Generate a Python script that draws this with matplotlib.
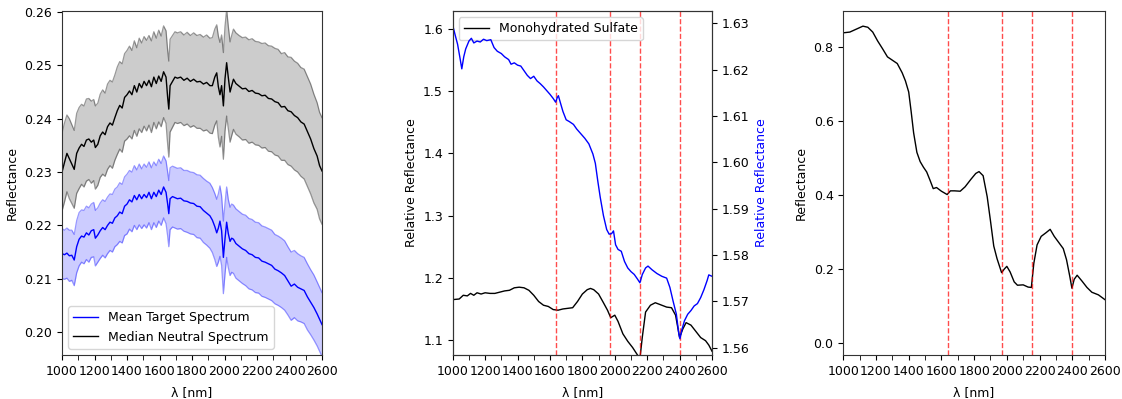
import numpy as np
import matplotlib
matplotlib.use("Agg")
import matplotlib.pyplot as plt
from matplotlib.ticker import MultipleLocator

# ---------------- Panel 1: target vs neutral spectra ----------------
wl = [
    1000, 1015, 1030, 1045, 1060, 1075, 1090, 1105, 1120, 1135,
    1150, 1165, 1180, 1195, 1205, 1220, 1235, 1250, 1265, 1280,
    1295, 1310, 1325, 1340, 1355, 1370, 1385, 1400, 1415, 1430,
    1445, 1460, 1475, 1490, 1505, 1520, 1535, 1550, 1565, 1580,
    1595, 1610, 1625, 1640, 1650, 1657, 1665, 1680, 1695, 1710,
    1730, 1750, 1770, 1790, 1810, 1830, 1850, 1870, 1890, 1910,
    1925, 1940, 1952, 1962, 1972, 1982, 1993, 2003, 2013, 2023,
    2034, 2044, 2055, 2070, 2090, 2110, 2130, 2150, 2170, 2190,
    2210, 2230, 2250, 2270, 2290, 2310, 2330, 2350, 2370, 2390,
    2410, 2430, 2450, 2470, 2490, 2510, 2530, 2550, 2570, 2585,
    2600,
]

neutral_median = [
    .2300, .2318, .2335, .2325, .2315, .2305, .2335, .2345, .2352, .2348,
    .2360, .2362, .2356, .2360, .2346, .2352, .2368, .2375, .2370, .2385,
    .2392, .2388, .2402, .2415, .2425, .2420, .2440, .2445, .2452, .2445,
    .2462, .2450, .2466, .2458, .2470, .2462, .2472, .2460, .2478, .2466,
    .2480, .2470, .2488, .2478, .2440, .2418, .2462, .2470, .2478, .2476,
    .2478, .2472, .2476, .2470, .2474, .2469, .2470, .2465, .2468, .2462,
    .2462, .2478, .2486, .2460, .2445, .2462, .2424, .2475, .2505, .2478,
    .2450, .2462, .2474, .2466, .2461, .2456, .2457, .2451, .2453, .2448,
    .2447, .2443, .2444, .2438, .2437, .2432, .2430, .2422, .2423, .2415,
    .2413, .2406, .2402, .2394, .2390, .2376, .2362, .2344, .2330, .2312,
    .2302,
]

neutral_spread = [
    .0073, .0074, .0072, .0075, .0074, .0073, .0075, .0076, .0075, .0076,
    .0077, .0076, .0077, .0076, .0078, .0077, .0078, .0079, .0078, .0080,
    .0080, .0081, .0080, .0082, .0082, .0083, .0082, .0083, .0084, .0083,
    .0084, .0083, .0085, .0084, .0084, .0085, .0084, .0086, .0085, .0085,
    .0086, .0085, .0086, .0087, .0088, .0090, .0087, .0086, .0085, .0085,
    .0085, .0085, .0086, .0086, .0087, .0087, .0088, .0088, .0089, .0089,
    .0090, .0090, .0090, .0095, .0098, .0095, .0100, .0098, .0100, .0096,
    .0094, .0094, .0094, .0095, .0095, .0096, .0096, .0097, .0097, .0097,
    .0097, .0098, .0098, .0099, .0099, .0100, .0100, .0100, .0101, .0101,
    .0102, .0102, .0102, .0102, .0103, .0103, .0103, .0102, .0100, .0100,
    .0100,
]

target_mean = [
    .2147, .2145, .2148, .2143, .2144, .2135, .2160, .2174, .2180, .2178,
    .2186, .2182, .2190, .2192, .2176, .2182, .2190, .2196, .2192, .2200,
    .2206, .2204, .2214, .2218, .2225, .2222, .2236, .2240, .2248, .2244,
    .2256, .2248, .2258, .2250, .2258, .2252, .2262, .2250, .2262, .2254,
    .2266, .2258, .2272, .2262, .2240, .2222, .2250, .2254, .2252, .2250,
    .2251, .2246, .2245, .2242, .2241, .2236, .2235, .2228, .2223, .2218,
    .2210, .2198, .2186, .2195, .2208, .2190, .2140, .2175, .2206, .2185,
    .2170, .2176, .2174, .2166, .2161, .2156, .2153, .2147, .2145, .2140,
    .2139, .2133, .2131, .2128, .2125, .2118, .2115, .2111, .2106, .2096,
    .2086, .2090, .2084, .2081, .2078, .2066, .2056, .2046, .2034, .2024,
    .2014,
]

target_spread = [
    .0047, .0046, .0047, .0048, .0047, .0048, .0049, .0050, .0049, .0050,
    .0050, .0051, .0050, .0051, .0052, .0051, .0052, .0052, .0053, .0053,
    .0053, .0054, .0054, .0054, .0055, .0055, .0055, .0056, .0055, .0056,
    .0056, .0056, .0057, .0056, .0057, .0057, .0057, .0058, .0057, .0058,
    .0058, .0058, .0058, .0059, .0060, .0062, .0058, .0057, .0057, .0057,
    .0057, .0057, .0058, .0058, .0058, .0059, .0059, .0060, .0060, .0061,
    .0061, .0062, .0063, .0064, .0066, .0065, .0068, .0066, .0066, .0064,
    .0064, .0064, .0064, .0065, .0065, .0065, .0066, .0066, .0066, .0066,
    .0066, .0066, .0066, .0066, .0066, .0065, .0065, .0065, .0065, .0064,
    .0064, .0063, .0063, .0062, .0062, .0062, .0061, .0061, .0060, .0060,
    .0060,
]

# ---------------- Panel 2: sulfate library vs ratioed spectrum ----------------
sulfate_wl = [
    1000, 1040, 1065, 1090, 1110, 1130, 1150, 1175, 1200, 1230,
    1260, 1290, 1320, 1350, 1380, 1410, 1440, 1470, 1500, 1530,
    1560, 1590, 1620, 1650, 1680, 1710, 1740, 1770, 1800, 1830,
    1850, 1870, 1900, 1930, 1955, 1975, 2000, 2020, 2050, 2080,
    2110, 2140, 2155, 2170, 2190, 2220, 2250, 2280, 2320, 2350,
    2375, 2400, 2420, 2440, 2470, 2500, 2530, 2560, 2580, 2600,
]
sulfate_refl = [
    1.165, 1.166, 1.172, 1.171, 1.175, 1.172, 1.176, 1.174, 1.176, 1.175,
    1.175, 1.177, 1.179, 1.180, 1.184, 1.185, 1.184, 1.180, 1.172, 1.162,
    1.156, 1.154, 1.149, 1.148, 1.150, 1.151, 1.152, 1.162, 1.174, 1.181,
    1.183, 1.181, 1.174, 1.160, 1.148, 1.136, 1.140, 1.130, 1.110, 1.098,
    1.088, 1.076, 1.070, 1.105, 1.145, 1.156, 1.160, 1.157, 1.153, 1.152,
    1.140, 1.104, 1.118, 1.128, 1.124, 1.114, 1.104, 1.099, 1.092, 1.082,
]

ratio_wl = [
    1000, 1015, 1030, 1045, 1056, 1068, 1080, 1100, 1115, 1130,
    1150, 1170, 1190, 1210, 1235, 1255, 1275, 1300, 1320, 1345,
    1360, 1380, 1400, 1420, 1440, 1460, 1480, 1500, 1520, 1540,
    1560, 1580, 1600, 1620, 1635, 1645, 1652, 1665, 1680, 1700,
    1720, 1745, 1765, 1790, 1815, 1840, 1865, 1880, 1895, 1910,
    1930, 1950, 1965, 1980, 1992, 2005, 2020, 2040, 2060, 2080,
    2100, 2120, 2140, 2155, 2170, 2190, 2205, 2230, 2260, 2290,
    2320, 2340, 2360, 2380, 2395, 2402, 2415, 2430, 2450, 2470,
    2490, 2510, 2530, 2550, 2570, 2580, 2600,
]
ratio_refl = [
    1.6296, 1.6275, 1.6255, 1.6225, 1.6202, 1.6228, 1.6245, 1.6262, 1.6268, 1.6258,
    1.6262, 1.6260, 1.6266, 1.6263, 1.6265, 1.6248, 1.6240, 1.6235, 1.6228, 1.6222,
    1.6212, 1.6215, 1.6210, 1.6208, 1.6198, 1.6188, 1.6181, 1.6186, 1.6176, 1.6170,
    1.6163, 1.6155, 1.6147, 1.6138, 1.6130, 1.6140, 1.6144, 1.6128, 1.6110, 1.6092,
    1.6088, 1.6082, 1.6072, 1.6062, 1.6052, 1.6040, 1.6018, 1.5998, 1.5960, 1.5925,
    1.5885, 1.5855, 1.5845, 1.5846, 1.5852, 1.5822, 1.5812, 1.5808, 1.5786, 1.5772,
    1.5764, 1.5758, 1.5748, 1.5740, 1.5758, 1.5772, 1.5776, 1.5768, 1.5760, 1.5754,
    1.5750, 1.5730, 1.5700, 1.5672, 1.5630, 1.5619, 1.5640, 1.5658, 1.5672, 1.5680,
    1.5690, 1.5695, 1.5708, 1.5725, 1.5745, 1.5757, 1.5754,
]

# ---------------- Panel 3: reflectance spectrum ----------------
lab_wl = [
    1000, 1040, 1080, 1120, 1150, 1180, 1210, 1240, 1270, 1300,
    1330, 1360, 1380, 1400, 1415, 1430, 1450, 1470, 1490, 1510,
    1530, 1550, 1570, 1600, 1635, 1655, 1680, 1715, 1745, 1780,
    1810, 1830, 1855, 1880, 1900, 1920, 1940, 1968, 1985, 2000,
    2020, 2045, 2065, 2100, 2130, 2150, 2165, 2185, 2210, 2240,
    2265, 2290, 2320, 2345, 2365, 2385, 2398, 2412, 2430, 2460,
    2490, 2520, 2560, 2600,
]
lab_refl = [
    0.838, 0.840, 0.848, 0.856, 0.853, 0.840, 0.816, 0.795, 0.773, 0.764,
    0.755, 0.730, 0.708, 0.678, 0.625, 0.568, 0.515, 0.490, 0.475, 0.462,
    0.440, 0.417, 0.420, 0.410, 0.401, 0.411, 0.411, 0.410, 0.422, 0.442,
    0.458, 0.463, 0.452, 0.395, 0.330, 0.262, 0.228, 0.190, 0.200, 0.207,
    0.192, 0.165, 0.156, 0.157, 0.151, 0.150, 0.215, 0.265, 0.288, 0.298,
    0.307, 0.288, 0.270, 0.255, 0.225, 0.180, 0.148, 0.172, 0.183, 0.167,
    0.150, 0.137, 0.130, 0.117,
]

# Absorption band centres marked in panels 2 and 3
band_centres = [1640, 1970, 2155, 2400]

FS = 9
plt.rcParams.update({
    "font.family": "DejaVu Sans",
    "font.size": FS,
    "axes.linewidth": 0.8,
    "axes.edgecolor": "#333333",
    "xtick.labelsize": FS,
    "ytick.labelsize": FS,
    "legend.fontsize": FS,
})

fig = plt.figure(figsize=(11.22, 3.99), dpi=100)
bottom, height = 0.1103, 0.8622
ax1 = fig.add_axes([0.0553, bottom, 0.2317, height])
ax2 = fig.add_axes([0.4035, bottom, 0.2311, height])
ax3 = fig.add_axes([0.7516, bottom, 0.2332, height])

wl_a = np.array(wl)
nm = np.array(neutral_median)
ns = np.array(neutral_spread)
tm = np.array(target_mean)
ts = np.array(target_spread)

# Panel 1
ax1.fill_between(wl_a, tm - ts, tm + ts, color="blue", alpha=0.2, linewidth=0)
ax1.plot(wl_a, tm + ts, color="blue", alpha=0.4, lw=0.9)
ax1.plot(wl_a, tm - ts, color="blue", alpha=0.4, lw=0.9)
ax1.plot(wl_a, tm, color="blue", lw=1.0, label="Mean Target Spectrum")
ax1.fill_between(wl_a, nm - ns, nm + ns, color="black", alpha=0.2, linewidth=0)
ax1.plot(wl_a, nm + ns, color="black", alpha=0.4, lw=0.9)
ax1.plot(wl_a, nm - ns, color="black", alpha=0.4, lw=0.9)
ax1.plot(wl_a, nm, color="black", lw=1.0, label="Median Neutral Spectrum")
ax1.set_xlim(1000, 2600)
ax1.set_ylim(0.1957, 0.2602)
ax1.set_ylabel("Reflectance")
ax1.legend(loc="lower left")

# Panel 2
ax2.plot(sulfate_wl, sulfate_refl, color="black", lw=1.0, label="Monohydrated Sulfate")
for b in band_centres:
    ax2.axvline(b, color="red", ls="--", lw=1.0, alpha=0.7)
ax2.set_xlim(1000, 2600)
ax2.set_ylim(1.076, 1.629)
ax2.set_ylabel("Relative Reflectance")
ax2.legend(loc="upper left")
ax2r = ax2.twinx()
ax2r.plot(ratio_wl, ratio_refl, color="blue", lw=1.0)
ax2r.set_ylim(1.5584, 1.6327)
ax2r.set_ylabel("Relative Reflectance", color="blue")
ax2r.tick_params(labelsize=FS)

# Panel 3
ax3.plot(lab_wl, lab_refl, color="black", lw=1.0)
for b in band_centres:
    ax3.axvline(b, color="red", ls="--", lw=1.0, alpha=0.7)
ax3.set_xlim(1000, 2600)
ax3.set_ylim(-0.0325, 0.897)
ax3.set_ylabel("Reflectance")

for ax in (ax1, ax2, ax3):
    ax.set_xlabel("λ [nm]", labelpad=6)
    ax.xaxis.set_major_locator(MultipleLocator(200))
    ax.xaxis.set_minor_locator(MultipleLocator(100))
    ax.tick_params(axis="x", which="minor", length=3.5)

fig.savefig("out.png", dpi=100)
